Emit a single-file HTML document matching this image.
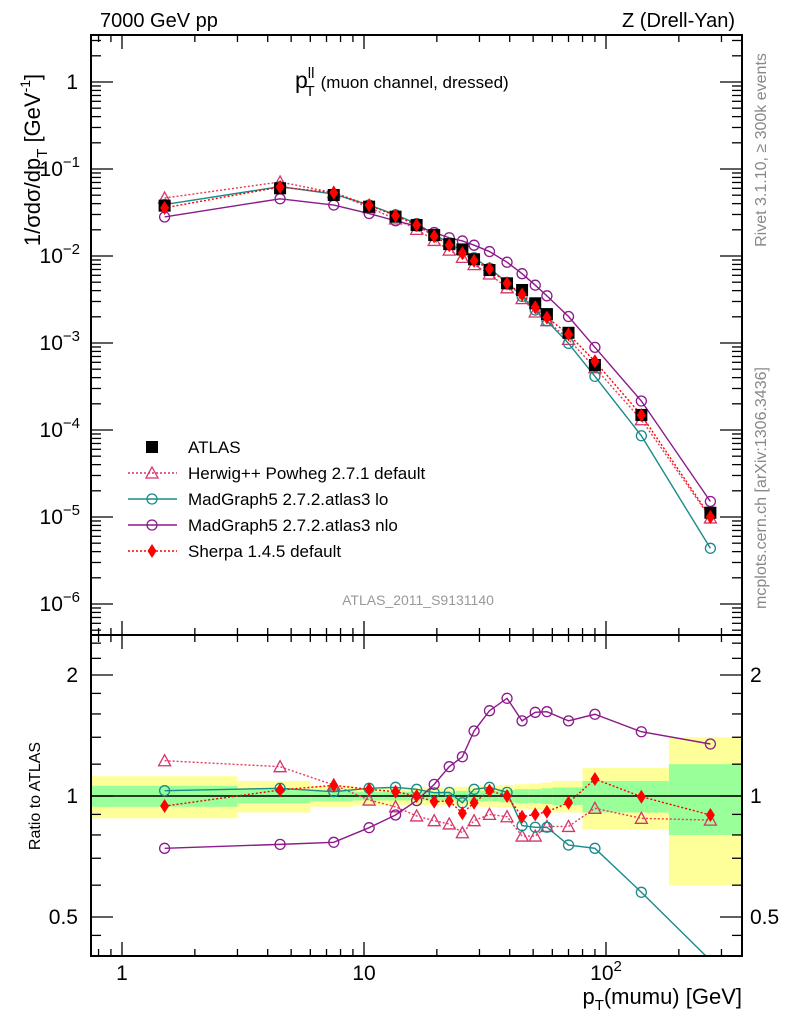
<!DOCTYPE html>
<html><head><meta charset="utf-8"><style>
body{margin:0;background:#fff;}
svg{display:block;font-family:"Liberation Sans",sans-serif;}
</style></head><body>
<svg id="chart" width="786" height="1024" viewBox="0 0 786 1024" xmlns="http://www.w3.org/2000/svg">
<defs>
<clipPath id="cu"><rect x="91" y="35" width="651" height="600"/></clipPath>
<clipPath id="cr"><rect x="91" y="635" width="651" height="321"/></clipPath>
</defs>
<rect width="786" height="1024" fill="#fff"/>
<text x="100" y="27" font-size="20">7000 GeV pp</text>
<text x="735" y="27" font-size="20" text-anchor="end">Z (Drell-Yan)</text>
<text x="295" y="88" font-size="23">p<tspan font-size="15" dy="-10">ll</tspan><tspan font-size="15" dx="-9" dy="18">T</tspan><tspan font-size="17" dx="6" dy="-8">(muon channel, dressed)</tspan></text>
<text transform="translate(40,160) rotate(-90)" font-size="22" text-anchor="middle">1/σdσ/dp<tspan font-size="15" dy="7">T</tspan><tspan dy="-7"> [GeV</tspan><tspan font-size="14" dy="-10">-1</tspan><tspan dy="10">]</tspan></text>
<text transform="translate(40,796) rotate(-90)" font-size="16" text-anchor="middle">Ratio to ATLAS</text>
<text x="742" y="1004" font-size="22" text-anchor="end">p<tspan font-size="15" dy="6">T</tspan><tspan dy="-6">(mumu) [GeV]</tspan></text>
<text transform="translate(766,150) rotate(-90)" font-size="16" fill="#888" text-anchor="middle">Rivet 3.1.10, ≥ 300k events</text>
<text transform="translate(766,488) rotate(-90)" font-size="16" fill="#888" text-anchor="middle">mcplots.cern.ch [arXiv:1306.3436]</text>
<text x="418" y="605" font-size="14" fill="#999" text-anchor="middle">ATLAS_2011_S9131140</text>
<g id="bands" clip-path="url(#cr)"></g>
<g id="ratio" clip-path="url(#cr)"></g>
<g id="upper" clip-path="url(#cu)"></g>
<g id="axes"></g>
<g id="legend"></g>
</svg>
<script>
const xs = [1.5,4.5,7.5,10.5,13.5,16.5,19.5,22.5,25.5,28.5,33,39,45,51,57,70,90,140,270];
const atlas = [0.0379,0.060,0.0502,0.0369,0.0283,0.0227,0.0174,0.0137,0.0119,0.00917,0.0069,0.00485,0.00407,0.00286,0.00215,0.00131,0.000558,0.000149,1.12e-5];
const herwigRatio = [1.224,1.183,1.065,0.977,0.940,0.892,0.868,0.852,0.810,0.868,0.900,0.888,0.795,0.795,0.84,0.84,0.932,0.880,0.871];
const mgloRatio = [1.031,1.045,1.025,1.045,1.051,1.039,1.019,1.021,0.962,1.039,1.051,1.021,0.844,0.836,0.836,0.755,0.741,0.576,0.39];
const mgnloRatio = [0.741,0.758,0.767,0.834,0.897,0.974,1.069,1.183,1.252,1.451,1.630,1.750,1.538,1.615,1.621,1.538,1.597,1.445,1.347];
const sherpaRatio = [0.944,1.035,1.063,1.039,1.025,1.0,0.968,0.972,0.906,0.962,1.031,1.0,0.888,0.9,0.914,0.962,1.102,0.996,0.897];
const binEdges = [0,3,6,9,12,15,18,21,24,27,30,36,42,48,54,60,80,100,182,365];
const totErr = [0.12,0.09,0.06,0.05,0.05,0.05,0.05,0.05,0.055,0.055,0.06,0.065,0.07,0.075,0.08,0.09,0.175,0.175,0.4];
const statErr = [0.06,0.04,0.03,0.025,0.025,0.025,0.025,0.025,0.03,0.03,0.03,0.035,0.04,0.04,0.045,0.05,0.09,0.09,0.2];
const upperTicks = ["1","10|-1","10|-2","10|-3","10|-4","10|-5","10|-6"];

const NS="http://www.w3.org/2000/svg";
const X=p=>p<=0?0:122+242*Math.log10(p);
const YU=v=>82-87*Math.log10(v);
const YR=r=>796-121*Math.log2(r);
function el(tag,attrs,parent){const e=document.createElementNS(NS,tag);for(const k in attrs)e.setAttribute(k,attrs[k]);parent.appendChild(e);return e;}
const bands=document.getElementById('bands'),ratio=document.getElementById('ratio'),upper=document.getElementById('upper'),axes=document.getElementById('axes'),legend=document.getElementById('legend');

for(let i=0;i<totErr.length;i++){
  const x0=Math.max(X(binEdges[i]),91),x1=X(binEdges[i+1]);
  const y=el('rect',{x:x0,y:YR(1+totErr[i]),width:x1-x0,height:YR(1-totErr[i])-YR(1+totErr[i]),fill:'#ffff99'},bands);
  
  
  const g=el('rect',{x:x0,y:YR(1+statErr[i]),width:x1-x0,height:YR(1-statErr[i])-YR(1+statErr[i]),fill:'#99ff99'},bands);
  
  
}
const one=el('line',{x1:91,x2:742,y1:YR(1),y2:YR(1),stroke:'#000','stroke-width':1.5},bands);



function marker(type,x,y,color,parent,name){
  let m;
  if(type==='tri') m=el('path',{d:`M${x},${y-6}L${x+6},${y+5}L${x-6},${y+5}Z`,fill:'none',stroke:color,'stroke-width':1.3},parent);
  else if(type==='circ') m=el('circle',{cx:x,cy:y,r:5,fill:'none',stroke:color,'stroke-width':1.3},parent);
  else if(type==='dia') m=el('path',{d:`M${x},${y-7}L${x+4.5},${y}L${x},${y+7}L${x-4.5},${y}Z`,fill:color},parent);
  else m=el('rect',{x:x-6,y:y-6,width:12,height:12,fill:color},parent);
  
  
}
const series=[
  {r:herwigRatio,c:'#d6336c',lc:'#e83a5a',dash:'2,2',m:'tri',n:'herwig'},
  {r:mgloRatio,c:'#1a8a8a',lc:'#1a8a8a',dash:null,m:'circ',n:'madgraph-lo'},
  {r:mgnloRatio,c:'#8b1a8b',lc:'#8b1a8b',dash:null,m:'circ',n:'madgraph-nlo'},
  {r:sherpaRatio,c:'#ff0000',lc:'#ff0000',dash:'2,2',m:'dia',n:'sherpa'}
];
series.forEach(s=>{
  const pu=xs.map((x,i)=>`${X(x)},${YU(atlas[i]*s.r[i])}`).join(' ');
  const pr=xs.map((x,i)=>`${X(x)},${YR(s.r[i])}`).join(' ');
  const a={fill:'none',stroke:s.lc,'stroke-width':1.4,points:pu};if(s.dash)a['stroke-dasharray']=s.dash;
  const l1=el('polyline',a,upper);
  
  
  a.points=pr;
  const l2=el('polyline',a,ratio);
  
  
  xs.forEach((x,i)=>{marker(s.m,X(x),YU(atlas[i]*s.r[i]),s.c,upper,s.n+'-point');marker(s.m,X(x),YR(s.r[i]),s.c,ratio,s.n+'-ratio-point');});
});
xs.forEach((x,i)=>marker('sq',X(x),YU(atlas[i]),'#000',upper,'atlas-point'));
xs.forEach((x,i)=>marker('dia',X(x),YU(atlas[i]*sherpaRatio[i]),'#ff0000',upper,'sherpa-point'));

[[35,635],[635,956]].forEach(([t,b],k)=>{
  const f=el('rect',{x:91,y:t,width:651,height:b-t,fill:'none',stroke:'#000','stroke-width':2},axes);
  
  
  for(let d=-1;d<=2;d++)for(let m=1;m<10;m++){
    const p=m*Math.pow(10,d),x=X(p);if(x<92||x>741)continue;
    const len=m===1?14:7;
    el('line',{x1:x,x2:x,y1:b,y2:b-len,stroke:'#000','stroke-width':1.3},axes);
    el('line',{x1:x,x2:x,y1:t,y2:t+len,stroke:'#000','stroke-width':1.3},axes);
  }
});
for(let d=-7;d<=0;d++)for(let m=1;m<10;m++){
  const v=m*Math.pow(10,d),y=YU(v);if(y<36||y>634)continue;
  const len=m===1?22:10;
  el('line',{x1:91,x2:91+len,y1:y,y2:y,stroke:'#000','stroke-width':1.3},axes);
  el('line',{x1:742,x2:742-len,y1:y,y2:y,stroke:'#000','stroke-width':1.3},axes);
}
upperTicks.forEach((s,i)=>{
  const y=YU(Math.pow(10,-i))+7;const [b,e]=s.split('|');
  const t=el('text',{x:e?80:78,y:y,'font-size':21,'text-anchor':'end'},axes);
  
  
  t.textContent=b;
  if(e){const sp=el('tspan',{'font-size':15,dy:-9},t);sp.textContent='−'+e.slice(1);}
});
[0.45,0.5,0.6,0.7,0.8,0.9,1,1.2,1.4,1.6,1.8,2,2.2,2.4].forEach(r=>{
  const y=YR(r),major=(r===0.5||r===1||r===2),len=major?22:10;
  el('line',{x1:91,x2:91+len,y1:y,y2:y,stroke:'#000','stroke-width':1.3},axes);
  el('line',{x1:742,x2:742-len,y1:y,y2:y,stroke:'#000','stroke-width':1.3},axes);
});
[['2',2],['1',1],['0.5',0.5]].forEach(([s,r])=>{
  const a=el('text',{x:78,y:YR(r)+7,'font-size':21,'text-anchor':'end'},axes);a.textContent=s;
  
  
  const b=el('text',{x:750,y:YR(r)+7,'font-size':21},axes);b.textContent=s;
  
  
});
[['1',1],['10',10],['10',100]].forEach(([s,p],i)=>{
  const t=el('text',{x:X(p),y:980,'font-size':21,'text-anchor':'middle'},axes);t.textContent=s;
  
  
  if(i===2){const sp=el('tspan',{'font-size':15,dy:-9},t);sp.textContent='2';}
});
const leg=[['sq','#000',null,'ATLAS'],['tri','#d6336c','2,2','Herwig++ Powheg 2.7.1 default'],['circ','#1a8a8a',null,'MadGraph5 2.7.2.atlas3 lo'],['circ','#8b1a8b',null,'MadGraph5 2.7.2.atlas3 nlo'],['dia','#ff0000','2,2','Sherpa 1.4.5 default']];
leg.forEach(([m,c,d,s],i)=>{
  const y=447+26*i;
  if(i>0){const a={x1:128,x2:177,y1:y,y2:y,stroke:c,'stroke-width':1.4};if(d)a['stroke-dasharray']=d;
    const l=el('line',a,legend);}
  marker(m,152,y,c,legend,'legend-marker');
  const t=el('text',{x:188,y:y+6,'font-size':17},legend);t.textContent=s;
  
  
});
</script>
</body></html>
